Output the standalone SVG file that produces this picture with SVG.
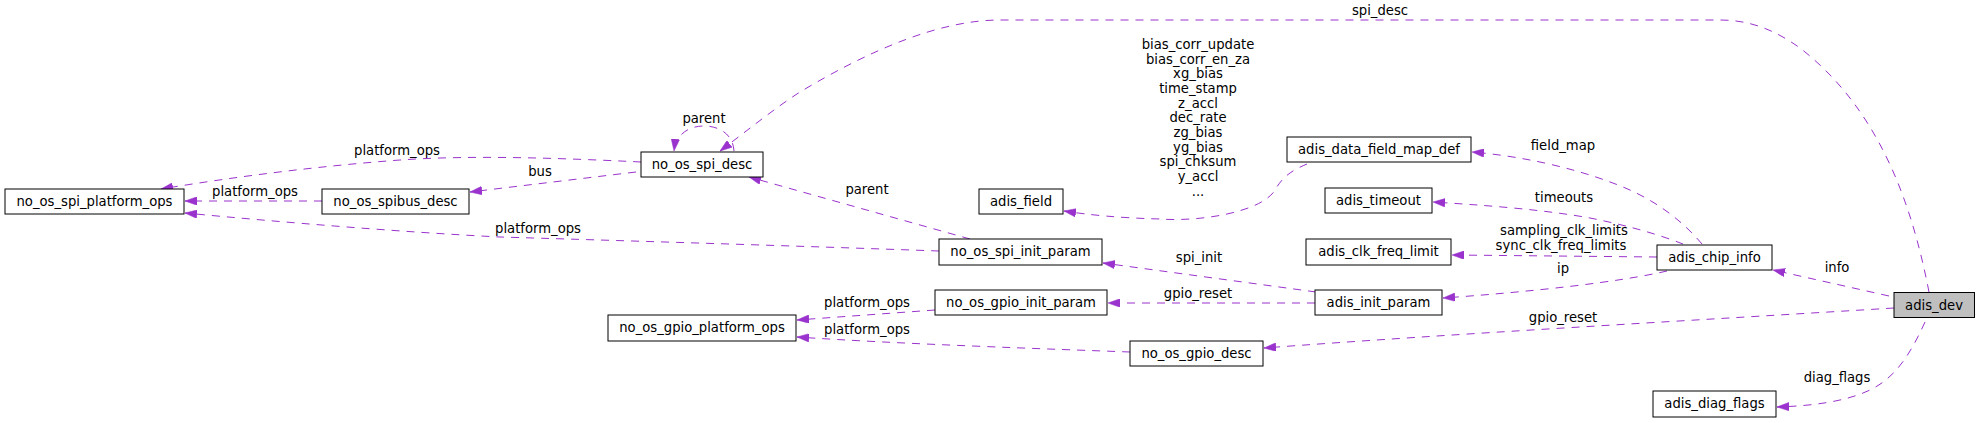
<svg xmlns="http://www.w3.org/2000/svg" width="1980" height="423" viewBox="0 0 1980 423">
<style>
.node rect{fill:#fff;stroke:#000;stroke-width:1}
.root rect{fill:#bfbfbf;stroke:#000}
text{font-family:"DejaVu Sans","Liberation Sans",sans-serif;font-size:13.2px;fill:#000}
.node text{text-anchor:middle}
.lbl{text-anchor:middle}
.edges path{fill:none;stroke:#9a32cd;stroke-width:1;stroke-dasharray:8,7;marker-end:url(#arr)}
</style>
<defs>
<marker id="arr" viewBox="0 0 12 8.5" refX="12" refY="4.25" markerWidth="12" markerHeight="8.5" markerUnits="userSpaceOnUse" orient="auto">
<path d="M0,0 L12,4.25 L0,8.5 Z" fill="#9a32cd" stroke="#9a32cd" stroke-width="0.5"/>
</marker>
</defs>
<rect width="1980" height="423" fill="#fff"/>
<g class="edges" id="edges">
<path d="M1929,292 C1912,205 1880,110 1800,48 C1775,30 1750,20 1720,20 L1000,20 C940,20 870,50 800,92 C775,108 748,130 720,151"/>
<path d="M734,151 C733,134 719,126 704,126 C689,126 676,134 674,151"/>
<path d="M641,162 C560,158 470,155 400,160 C320,166 240,176 161,189"/>
<path d="M636,172 L470,192"/>
<path d="M322,201 L185,201"/>
<path d="M939,251 C800,246 600,240 500,237 C400,232 280,222 185,213"/>
<path d="M970,239 L749,177"/>
<path d="M1316,292 L1103,263"/>
<path d="M1315,303 L1108,303"/>
<path d="M935,310 L797,320"/>
<path d="M1130,352 C1050,349 900,344 797,337"/>
<path d="M1307,164 C1290,171 1282,178 1275,190 C1262,212 1200,222 1160,219 C1120,218 1090,215 1064,211"/>
<path d="M1702,244 C1680,218 1650,196 1610,182 C1570,167 1520,156 1472,152"/>
<path d="M1683,244 C1660,235 1630,226 1590,218 C1540,209 1480,205 1433,202"/>
<path d="M1657,257 L1452,255"/>
<path d="M1667,271 C1620,282 1530,292 1443,298"/>
<path d="M1889,296 L1773,270"/>
<path d="M1894,308 C1700,320 1450,334 1264,348"/>
<path d="M1925,322 C1910,355 1895,378 1870,390 C1845,402 1810,406 1777,407"/>
</g>
<g id="edge-labels">
<text class="lbl" x="1380" y="15">spi_desc</text>
<text class="lbl" x="704" y="123">parent</text>
<text class="lbl" x="397" y="155">platform_ops</text>
<text class="lbl" x="540" y="176">bus</text>
<text class="lbl" x="255" y="196">platform_ops</text>
<text class="lbl" x="538" y="233">platform_ops</text>
<text class="lbl" x="867" y="194">parent</text>
<text class="lbl" x="1199" y="262">spi_init</text>
<text class="lbl" x="1198" y="298">gpio_reset</text>
<text class="lbl" x="867" y="307">platform_ops</text>
<text class="lbl" x="867" y="334">platform_ops</text>
<text class="lbl" x="1198" y="49">bias_corr_update</text>
<text class="lbl" x="1198" y="64">bias_corr_en_za</text>
<text class="lbl" x="1198" y="78">xg_bias</text>
<text class="lbl" x="1198" y="93">time_stamp</text>
<text class="lbl" x="1198" y="108">z_accl</text>
<text class="lbl" x="1198" y="122">dec_rate</text>
<text class="lbl" x="1198" y="137">zg_bias</text>
<text class="lbl" x="1198" y="152">yg_bias</text>
<text class="lbl" x="1198" y="166">spi_chksum</text>
<text class="lbl" x="1198" y="181">y_accl</text>
<text class="lbl" x="1198" y="196">...</text>
<text class="lbl" x="1563" y="150">field_map</text>
<text class="lbl" x="1564" y="202">timeouts</text>
<text class="lbl" x="1564" y="235">sampling_clk_limits</text>
<text class="lbl" x="1561" y="250">sync_clk_freq_limits</text>
<text class="lbl" x="1563" y="273">ip</text>
<text class="lbl" x="1837" y="272">info</text>
<text class="lbl" x="1563" y="322">gpio_reset</text>
<text class="lbl" x="1837" y="382">diag_flags</text>
</g>
<g id="no_os_spi_platform_ops" class="node"><rect x="5" y="189" width="179" height="25"/><text x="94.5" y="206">no_os_spi_platform_ops</text></g>
<g id="no_os_spibus_desc" class="node"><rect x="322" y="189" width="147" height="25"/><text x="395.5" y="206">no_os_spibus_desc</text></g>
<g id="no_os_spi_desc" class="node"><rect x="641" y="152" width="122" height="25"/><text x="702" y="169">no_os_spi_desc</text></g>
<g id="no_os_spi_init_param" class="node"><rect x="939" y="239" width="163" height="26"/><text x="1020.5" y="256">no_os_spi_init_param</text></g>
<g id="no_os_gpio_init_param" class="node"><rect x="935" y="290" width="172" height="25"/><text x="1021" y="307">no_os_gpio_init_param</text></g>
<g id="no_os_gpio_platform_ops" class="node"><rect x="608" y="315" width="188" height="26"/><text x="702" y="332">no_os_gpio_platform_ops</text></g>
<g id="adis_field" class="node"><rect x="979" y="189" width="84" height="25"/><text x="1021" y="206">adis_field</text></g>
<g id="adis_data_field_map_def" class="node"><rect x="1287" y="137" width="184" height="25"/><text x="1379" y="154">adis_data_field_map_def</text></g>
<g id="adis_timeout" class="node"><rect x="1325" y="188" width="107" height="25"/><text x="1378.5" y="205">adis_timeout</text></g>
<g id="adis_clk_freq_limit" class="node"><rect x="1306" y="239" width="145" height="26"/><text x="1378.5" y="256">adis_clk_freq_limit</text></g>
<g id="adis_init_param" class="node"><rect x="1315" y="290" width="127" height="25"/><text x="1378.5" y="307">adis_init_param</text></g>
<g id="no_os_gpio_desc" class="node"><rect x="1130" y="341" width="133" height="25"/><text x="1196.5" y="358">no_os_gpio_desc</text></g>
<g id="adis_chip_info" class="node"><rect x="1657" y="245" width="115" height="25"/><text x="1714.5" y="262">adis_chip_info</text></g>
<g id="adis_dev" class="node root"><rect x="1894" y="292.5" width="80.5" height="25"/><text x="1934" y="309.5">adis_dev</text></g>
<g id="adis_diag_flags" class="node"><rect x="1653" y="391" width="123" height="26"/><text x="1714.5" y="408">adis_diag_flags</text></g>
</svg>
